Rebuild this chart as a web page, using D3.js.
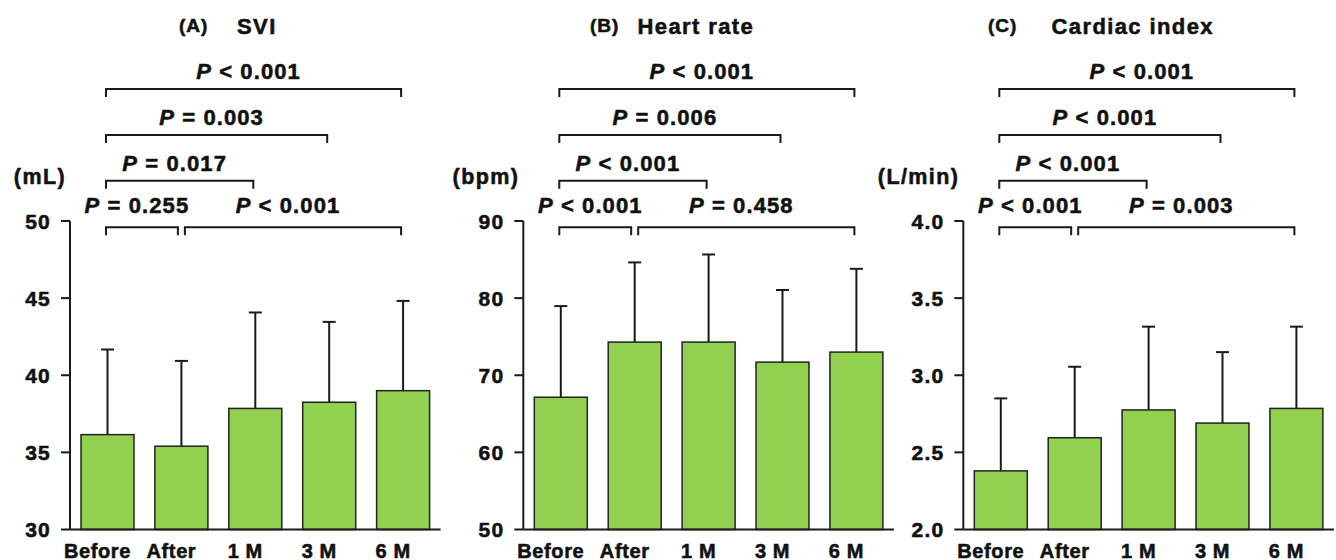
<!DOCTYPE html>
<html>
<head>
<meta charset="utf-8">
<script src="https://cdn.jsdelivr.net/npm/d3@7"></script>
<style>
  html, body { margin: 0; padding: 0; background: #fff; }
  svg { display: block; }
  text { font-family: "Liberation Sans", Arial, Helvetica, sans-serif; font-weight: bold; fill: #111; stroke: #111; stroke-width: 0.55px; }
</style>
</head>
<body>
<script>
// 三联柱状图：SVI / Heart rate / Cardiac index，均值 + 上侧 SD，顶部显著性括号
const categories = ["Before", "After", "1 M", "3 M", "6 M"];

const sviMean = [36.15, 35.4, 37.85, 38.25, 39.0];
const sviSD   = [5.52, 5.53, 6.22, 5.21, 5.82];
const sviTicks = [30, 35, 40, 45, 50];

const hrMean = [67.15, 74.3, 74.3, 71.7, 73.0];
const hrSD   = [11.82, 10.33, 11.36, 9.35, 10.8];
const hrTicks = [50, 60, 70, 80, 90];

const ciMean = [2.38, 2.595, 2.775, 2.69, 2.785];
const ciSD   = [0.47, 0.46, 0.54, 0.46, 0.53];
const ciTicks = [2.0, 2.5, 3.0, 3.5, 4.0];

// [起, 止, P 值文本]
const sviBrackets = [["Before", "6 M", "< 0.001"], ["Before", "3 M", "= 0.003"], ["Before", "1 M", "= 0.017"], ["Before", "After", "= 0.255"], ["After", "6 M", "< 0.001"]];
const hrBrackets  = [["Before", "6 M", "< 0.001"], ["Before", "3 M", "= 0.006"], ["Before", "1 M", "< 0.001"], ["Before", "After", "< 0.001"], ["After", "6 M", "= 0.458"]];
const ciBrackets  = [["Before", "6 M", "< 0.001"], ["Before", "3 M", "< 0.001"], ["Before", "1 M", "< 0.001"], ["Before", "After", "< 0.001"], ["After", "6 M", "= 0.003"]];

const panels = [
  { tag: "(A)", title: "SVI", unit: "(mL)", mean: sviMean, sd: sviSD, ticks: sviTicks, fmt: d3.format("d"), br: sviBrackets,
    ax: 70, tagX: 179, titleX: 237 },
  { tag: "(B)", title: "Heart rate", unit: "(bpm)", mean: hrMean, sd: hrSD, ticks: hrTicks, fmt: d3.format("d"), br: hrBrackets,
    ax: 523.3, tagX: 590, titleX: 637.5 },
  { tag: "(C)", title: "Cardiac index", unit: "(L/min)", mean: ciMean, sd: ciSD, ticks: ciTicks, fmt: d3.format(".1f"), br: ciBrackets,
    ax: 963.3, tagX: 988, titleX: 1051.5 },
];

const W = 1336, H = 560;
const Y0 = 529.5, Y1 = 221, AXW = 370.6;
const levelY = [89, 135, 180.7, 227.3];
const levelOf = [0, 1, 2, 3, 3];
const INK = "#1a1a1a", GREEN = "#92d050";

const svg = d3.select("body").append("svg").attr("width", W).attr("height", H);

panels.forEach(p => {
  const g = svg.append("g");
  const x = d3.scaleBand().domain(categories).range([p.ax, p.ax + AXW]).paddingInner(0.283).paddingOuter(0.149);
  const y = d3.scaleLinear().domain([p.ticks[0], p.ticks[p.ticks.length - 1]]).range([Y0, Y1]);
  const cx = c => x(c) + x.bandwidth() / 2;

  // ── 标题 ──
  g.append("text").attr("x", p.tagX).attr("y", 32).style("font-size", "19px").style("letter-spacing", "1px").text(p.tag);
  g.append("text").attr("x", p.titleX).attr("y", 33.5).style("font-size", "22px").style("letter-spacing", "1.4px").text(p.title);

  // 单位
  g.append("text").attr("x", p.ax - 4).attr("y", 184).attr("text-anchor", "end")
    .style("font-size", "21.5px").style("letter-spacing", "1.4px").text(p.unit);

  // ── 柱 + 误差线 ──
  categories.forEach((c, i) => {
    const top = y(p.mean[i]), eTop = y(p.mean[i] + p.sd[i]);
    g.append("line").attr("x1", cx(c)).attr("x2", cx(c)).attr("y1", top).attr("y2", eTop)
      .attr("stroke", INK).attr("stroke-width", 2);
    g.append("line").attr("x1", cx(c) - 6.5).attr("x2", cx(c) + 6.5).attr("y1", eTop).attr("y2", eTop)
      .attr("stroke", INK).attr("stroke-width", 2);
    g.append("rect").attr("x", x(c)).attr("width", x.bandwidth())
      .attr("y", top).attr("height", Y0 - top)
      .attr("fill", GREEN).attr("stroke", "#222").attr("stroke-width", 1.5);
  });

  // ── 纵轴 ──
  g.append("line").attr("x1", p.ax).attr("x2", p.ax).attr("y1", Y1).attr("y2", Y0)
    .attr("stroke", INK).attr("stroke-width", 2);
  p.ticks.forEach(t => {
    g.append("line").attr("x1", p.ax - 9).attr("x2", p.ax).attr("y1", y(t)).attr("y2", y(t))
      .attr("stroke", INK).attr("stroke-width", 2);
    g.append("text").attr("x", p.ax - 19).attr("y", y(t)).attr("dy", "0.36em").attr("text-anchor", "end")
      .style("font-size", "21px").style("letter-spacing", "1.2px").text(p.fmt(t));
  });

  // ── 横轴 ──
  g.append("line").attr("x1", p.ax).attr("x2", p.ax + AXW).attr("y1", Y0).attr("y2", Y0)
    .attr("stroke", INK).attr("stroke-width", 2);
  categories.forEach(c => {
    g.append("text").attr("x", cx(c) - 10).attr("y", 557.5).attr("text-anchor", "middle")
      .style("font-size", "20px").style("letter-spacing", "0.6px").text(c);
  });

  // ── 显著性括号 ──
  p.br.forEach((b, k) => {
    const by = levelY[levelOf[k]];
    const x1 = cx(b[0]) + (b[0] === "After" ? 3.5 : -1.5);
    const x2 = cx(b[1]) - (b[1] === "After" ? 3.5 : 2);
    g.append("path")
      .attr("d", `M${x1},${by + 8}V${by}H${x2}V${by + 8}`)
      .attr("fill", "none").attr("stroke", INK).attr("stroke-width", 2);
    const t = g.append("text").attr("x", (x1 + x2) / 2 - 5).attr("y", by - (levelOf[k] === 3 ? 14 : 10))
      .attr("text-anchor", "middle").style("font-size", "22px").style("letter-spacing", "1.1px");
    t.append("tspan").style("font-style", "italic").text("P");
    t.append("tspan").text(" " + b[2]);
  });
});
</script>
</body>
</html>
